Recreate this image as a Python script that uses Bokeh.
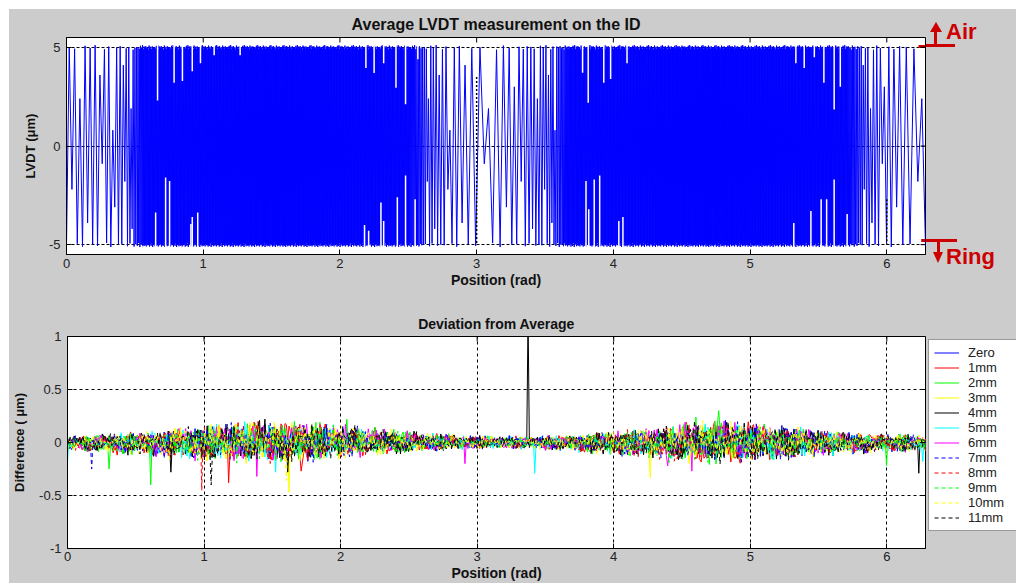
import numpy as np
from bokeh.plotting import figure
from bokeh.models import Range1d, FixedTicker, Legend, LegendItem, Div
from bokeh.layouts import column, row
from bokeh.embed import file_html
from bokeh.resources import INLINE

TWO_PI = 2 * np.pi
FONT = "Liberation Sans"
BG = "#cccccc"
RED = "#cc0000"

# ---------------- data: top panel (Average LVDT) ----------------
# local spacing between successive strokes of the trace (rad)
lvdt_knot_x = [0.0, 0.20, 0.35, 0.45, 0.52, 0.56, 1.50, 2.50, 2.58, 2.66, 2.78, 2.90,
               3.00, 3.10, 3.22, 3.38, 3.52, 3.62, 3.67, 4.70, 5.70, 5.77, 5.85, 5.95,
               6.05, 6.15, 6.283]
lvdt_step = [0.020, 0.018, 0.014, 0.009, 0.005, 0.003, 0.0025, 0.003, 0.005, 0.009, 0.014,
             0.022, 0.032, 0.030, 0.020, 0.013, 0.009, 0.005, 0.003, 0.0025, 0.003, 0.005,
             0.009, 0.014, 0.020, 0.028, 0.030]
# stroke extremes (um): full strokes, and the extremes seen in the open parts of the trace
lvdt_hi_full = [5.02, 4.93, 5.08, 4.97, 5.11, 4.90, 5.04, 4.99, 5.06, 4.95, 5.00, 4.88,
                5.09, 4.96, 5.03, 4.91, 5.05, 4.98, 5.01]
lvdt_lo_full = [-5.03, -4.95, -5.10, -4.98, -5.06, -4.92, -5.12, -5.00, -4.97, -5.08,
                -4.94, -5.05, -5.00, -5.09, -4.96]
lvdt_hi_open = [5.02, 4.93, 2.4, 5.08, 4.97, 5.11, 3.6, 4.90, 5.04, 0.8, 4.99, 5.06,
                4.1, 4.95, 5.00, 1.9, 4.88, 5.09, 4.96, 3.0, 5.03, 4.91, 5.05]
lvdt_lo_open = [-5.03, -2.2, -4.95, -5.10, -3.9, -4.98, -5.06, -0.9, -4.92, -5.12,
                -3.1, -5.00, -4.97, -1.8, -5.08, -4.94, -4.2, -5.05, -5.00]
# gaps visible inside the dense bands
notch_top_x = [0.666, 0.787, 0.848, 0.92, 0.98, 1.08, 1.27, 2.19, 2.25, 2.32, 2.41, 2.48,
               2.57, 3.775, 3.816, 3.93, 3.98, 4.10, 5.335, 5.396, 5.47, 5.54, 5.615, 5.66]
notch_top_y = [2.31, 3.2, 3.29, 3.79, 4.2, 4.6, 4.6, 3.96, 3.7, 4.2, 2.95, 2.12,
               4.4, 3.71, 2.19, 3.2, 3.4, 4.2, 4.2, 3.96, 4.5, 3.2, 1.85, 3.0]
notch_bot_x = [0.652, 0.725, 0.754, 0.91, 0.92, 0.96, 2.18, 2.21, 2.30, 2.32, 2.42, 2.48,
               2.55, 3.80, 3.82, 3.86, 3.90, 4.04, 4.07, 5.32, 5.445, 5.52, 5.56, 5.615, 5.71]
notch_bot_y = [-3.37, -1.6, -1.77, -3.96, -3.6, -3.37, -4.0, -4.3, -2.87, -3.8, -2.6, -1.5,
               -2.7, -1.77, -3.2, -1.7, -1.5, -3.8, -3.6, -3.9, -3.3, -2.7, -2.7, -1.7, -3.45]
# dotted index markers
marker_x = [3.0, 6.0]
marker_top = [3.5, -2.7]
marker_bottom = [-5.0, -5.0]
# limit marks (um) and where they start (rad)
air_level = 5.04
ring_level = -4.79
limit_start = [6.232, 6.252]

# ---------------- data: bottom panel (Deviation) ----------------
dev_labels = ["Zero", "1mm", "2mm", "3mm", "4mm", "5mm", "6mm",
              "7mm", "8mm", "9mm", "10mm", "11mm"]
env_x = [0.0, 0.5, 1.0, 1.4, 1.8, 2.2, 2.6, 3.0, 3.4, 3.8, 4.2, 4.6, 4.9, 5.3, 5.7, 6.0, 6.283]
env_up = [0.045, 0.065, 0.11, 0.14, 0.13, 0.10, 0.065, 0.045, 0.04, 0.055, 0.09, 0.13, 0.14,
          0.10, 0.065, 0.055, 0.045]
env_dn = [0.055, 0.085, 0.12, 0.13, 0.12, 0.09, 0.06, 0.04, 0.045, 0.065, 0.11, 0.14, 0.13,
          0.11, 0.075, 0.065, 0.055]
frac_a = [0.35, -0.62, 0.88, -0.15, 0.52, -0.93, 0.21, -0.44, 0.71, -0.28, 0.97, -0.55,
          0.08, -0.81, 0.63, -0.36, 0.41, -0.70, 0.25, -0.98, 0.79, -0.12, 0.57, -0.49,
          0.14, -0.66, 0.92, -0.31, 0.47]
frac_b = [-0.4, 0.7, -0.1, 0.9, -0.8, 0.3, -0.6, 1.0, -0.2, 0.5, -0.95, 0.15, -0.5,
          0.85, -0.3, 0.6, -0.75, 0.05, -0.9, 0.4, -0.05, 0.75, -0.65]
spike_series = [8, 11, 1, 3, 10, 6, 5, 1, 7, 2, 2, 4, 5, 6, 4, 4, 2, 4, 5, 3, 6, 6, 2, 2, 4, 5, 2]
spike_x = [0.98, 1.05, 1.18, 1.62, 1.60, 1.39, 1.52, 1.71, 0.18, 0.30, 0.61, 0.76, 0.0,
           2.91, 1.61, 1.45, 2.05, 3.377, 3.42, 4.27, 4.57, 4.40, 4.77, 4.60, 6.235, 6.26, 6.00]
spike_y = [-0.45, -0.40, -0.38, -0.47, -0.36, -0.32, -0.28, -0.27, -0.25, -0.25, -0.40,
           -0.28, -0.20, -0.20, -0.28, 0.22, 0.22, 1.2, -0.29, -0.33, -0.27, -0.22, 0.30,
           0.24, -0.29, -0.18, -0.22]

# styles
dev_colors = ["#0000ff", "#ff0000", "#00ff00", "#ffff00", "#000000", "#00ffff", "#ff00ff",
              "#0000ff", "#ff0000", "#00ff00", "#ffff00", "#000000"]
dev_dash = ["solid"] * 7 + ["4 3"] * 5
TICK_PX = 5


def style_axes(p, xticks, yticks, xover, yover, xlabel, ylabel, ylabel_standoff):
    xa, ya = p.xaxis[0], p.yaxis[0]
    xa.ticker = FixedTicker(ticks=xticks)
    ya.ticker = FixedTicker(ticks=yticks)
    xa.major_label_overrides = xover
    ya.major_label_overrides = yover
    for ax in (xa, ya):
        ax.major_tick_in = TICK_PX
        ax.major_tick_out = 0
        ax.minor_tick_line_color = None
        ax.major_tick_line_color = "black"
        ax.axis_line_color = "black"
        ax.major_label_text_font = FONT
        ax.major_label_text_font_size = "13px"
        ax.major_label_text_color = "#222222"
        ax.axis_label_text_font = FONT
        ax.axis_label_text_font_style = "bold"
        ax.axis_label_text_color = "#111111"
    xa.major_label_standoff = 4
    ya.major_label_standoff = 6
    xa.axis_label = xlabel
    ya.axis_label = ylabel
    xa.axis_label_text_font_size = "14px"
    ya.axis_label_text_font_size = "13px"
    xa.axis_label_standoff = 1
    ya.axis_label_standoff = ylabel_standoff


def box_ticks(p, xticks, yticks, frame_w, frame_h):
    """inner tick marks on the top and right edges of the box"""
    x0, x1 = p.x_range.start, p.x_range.end
    y0, y1 = p.y_range.start, p.y_range.end
    dy = (y1 - y0) * TICK_PX / frame_h
    dx = (x1 - x0) * TICK_PX / frame_w
    p.segment(x0=xticks, y0=[y1] * len(xticks), x1=xticks, y1=[y1 - dy] * len(xticks),
              line_color="black", line_width=1)
    p.segment(x0=[x1] * len(yticks), y0=yticks, x1=[x1 - dx] * len(yticks), y1=yticks,
              line_color="black", line_width=1)


def style_title(p, text, size, standoff):
    p.title.text = text
    p.title.align = "center"
    p.title.text_font = FONT
    p.title.text_font_size = size
    p.title.text_font_style = "bold"
    p.title.text_color = "#111111"
    p.title.standoff = standoff


xt = [0, 1, 2, 3, 4, 5, 6]
xover = {t: str(t) for t in xt}

# ---------------- top figure ----------------
p1 = figure(width=917, height=291, x_range=Range1d(0, TWO_PI), y_range=Range1d(-5.5, 5.5),
            output_backend="svg", toolbar_location=None,
            min_border_left=57, min_border_right=1, min_border_top=28, min_border_bottom=46,
            background_fill_color="white", border_fill_color=BG,
            outline_line_color="black")
style_axes(p1, xt, [-5, 0, 5], xover, {-5: "-5", 0: "0", 5: "5"},
           "Position (rad)", "LVDT (\u03bcm)", 8)
style_title(p1, "Average LVDT measurement on the ID", "16px", 9)
p1.xgrid.visible = False
p1.ygrid.grid_line_color = "black"
p1.ygrid.grid_line_dash = "3 2"

xs = [0.0]
while xs[-1] < TWO_PI:
    xs.append(xs[-1] + float(np.interp(xs[-1], lvdt_knot_x, lvdt_step)))
xs = np.array(xs)
xs[-1] = TWO_PI
steps = np.interp(xs, lvdt_knot_x, lvdt_step)
ys = np.empty(len(xs))
for i in range(len(xs)):
    open_part = steps[i] > 0.0065
    if i % 2 == 0:
        src = lvdt_lo_open if open_part else lvdt_lo_full
    else:
        src = lvdt_hi_open if open_part else lvdt_hi_full
    ys[i] = src[(i // 2) % len(src)]
p1.line(xs, ys, line_color="#0000ff", line_width=1)
p1.segment(x0=notch_top_x, y0=notch_top_y, x1=notch_top_x, y1=[5.25] * len(notch_top_x),
           line_color="white", line_width=1.5)
p1.segment(x0=notch_bot_x, y0=notch_bot_y, x1=notch_bot_x, y1=[-5.25] * len(notch_bot_x),
           line_color="white", line_width=1.5)
p1.segment(x0=marker_x, y0=marker_top, x1=marker_x, y1=marker_bottom,
           line_color="black", line_width=1.5, line_dash="2 2")
# start of the Air / Ring limit marks (they continue beside the plot)
p1.segment(x0=limit_start, y0=[air_level, ring_level], x1=[TWO_PI, TWO_PI],
           y1=[air_level, ring_level], line_color=RED, line_width=3)
box_ticks(p1, xt, [-5, 0, 5], 859, 217)

# ---------------- Air / Ring marks beside the top plot ----------------
def box(left, top, w, h, extra=""):
    return (f'<div style="position:absolute;left:{left}px;top:{top}px;width:{w}px;'
            f'height:{h}px;{extra}"></div>')


side_html = (
    '<div style="position:relative;width:90px;height:291px;overflow:hidden;'
    f"font-family:'{FONT}',Arial,sans-serif;\">"
    + box(0, 35, 29, 3, f"background:{RED};")
    + box(8, 22, 3, 15, f"background:{RED};")
    + box(3.5, 13, 0, 0, f"border-left:6px solid transparent;border-right:6px solid transparent;"
                         f"border-bottom:10px solid {RED};")
    + f'<div style="position:absolute;left:20px;top:10px;font-size:22px;font-weight:bold;'
      f'line-height:25px;color:{RED};">Air</div>'
    + box(0, 230, 31, 3, f"background:{RED};")
    + box(10.5, 232, 3, 12, f"background:{RED};")
    + box(6.5, 243, 0, 0, f"border-left:5.5px solid transparent;border-right:5.5px solid transparent;"
                          f"border-top:11px solid {RED};")
    + f'<div style="position:absolute;left:20px;top:235px;font-size:22px;font-weight:bold;'
      f'line-height:25px;color:{RED};">Ring</div>'
    + '</div>'
)
side = Div(text=side_html, width=90, height=291, margin=0)

# ---------------- bottom figure ----------------
p2 = figure(width=917, height=283, x_range=Range1d(0, TWO_PI), y_range=Range1d(-1, 1),
            output_backend="svg", toolbar_location=None,
            min_border_left=57, min_border_right=1, min_border_top=36, min_border_bottom=34,
            background_fill_color="white", border_fill_color=BG,
            outline_line_color="black")
style_axes(p2, xt, [-1, -0.5, 0, 0.5, 1], xover,
           {-1: "-1", -0.5: "-0.5", 0: "0", 0.5: "0.5", 1: "1"},
           "Position (rad)", "Difference ( \u03bcm)", 9)
style_title(p2, "Deviation from Average", "14px", 9)
p2.xaxis[0].major_label_standoff = 3
for g in (p2.xgrid[0], p2.ygrid[0]):
    g.grid_line_color = "black"
    g.grid_line_dash = "3 3"

N = 640
xg = np.linspace(0, TWO_PI, N)
up = np.interp(xg, env_x, env_up)
dn = np.interp(xg, env_x, env_dn)
fa = np.array(frac_a)
fb = np.array(frac_b)
idx = np.arange(N)
series = []
for k in range(len(dev_labels)):
    f = (0.6 * fa[(idx * (k % 5 + 1) + 3 * k) % len(fa)]
         + 0.4 * fb[(idx * (k % 3 + 1) + 5 * k) % len(fb)])
    y = np.where(f >= 0, f * up, f * dn) * 1.6
    series.append(y)
for s, sx, sy in zip(spike_series, spike_x, spike_y):
    i = int(round(sx / TWO_PI * (N - 1)))
    series[s][i] = sy

for k in range(len(dev_labels)):
    p2.line(xg, series[k], line_color=dev_colors[k], line_width=1, line_dash=dev_dash[k])
box_ticks(p2, xt, [-1, -0.5, 0, 0.5, 1], 859, 213)

# ---------------- legend panel beside the bottom plot ----------------
pl = figure(width=90, height=283, x_range=Range1d(0, 1), y_range=Range1d(0, 1),
            output_backend="svg", toolbar_location=None, x_axis_type=None, y_axis_type=None,
            min_border_left=0, min_border_right=0, min_border_top=0, min_border_bottom=0,
            background_fill_color=BG, border_fill_color=BG, outline_line_color=None)
pl.grid.visible = False
items = []
for k, lab in enumerate(dev_labels):
    r = pl.line([-2, -1], [-2, -2], line_color=dev_colors[k], line_width=1,
                line_dash=dev_dash[k])
    items.append(LegendItem(label=lab, renderers=[r]))
legend = Legend(items=items, location=(2, 17), orientation="vertical",
                glyph_width=25, glyph_height=15, label_height=15, label_width=60,
                label_standoff=9, padding=5, spacing=0, margin=0,
                label_text_font=FONT, label_text_font_size="13px", label_text_color="#222222",
                border_line_color="#333333", border_line_width=1,
                background_fill_color="white", background_fill_alpha=1)
pl.add_layout(legend)

layout = column(row(p1, side, spacing=0), row(p2, pl, spacing=0), spacing=0,
                margin=(9, 0, 0, 9), styles={"background-color": BG})
open("out.html", "w").write(file_html(layout, INLINE))
